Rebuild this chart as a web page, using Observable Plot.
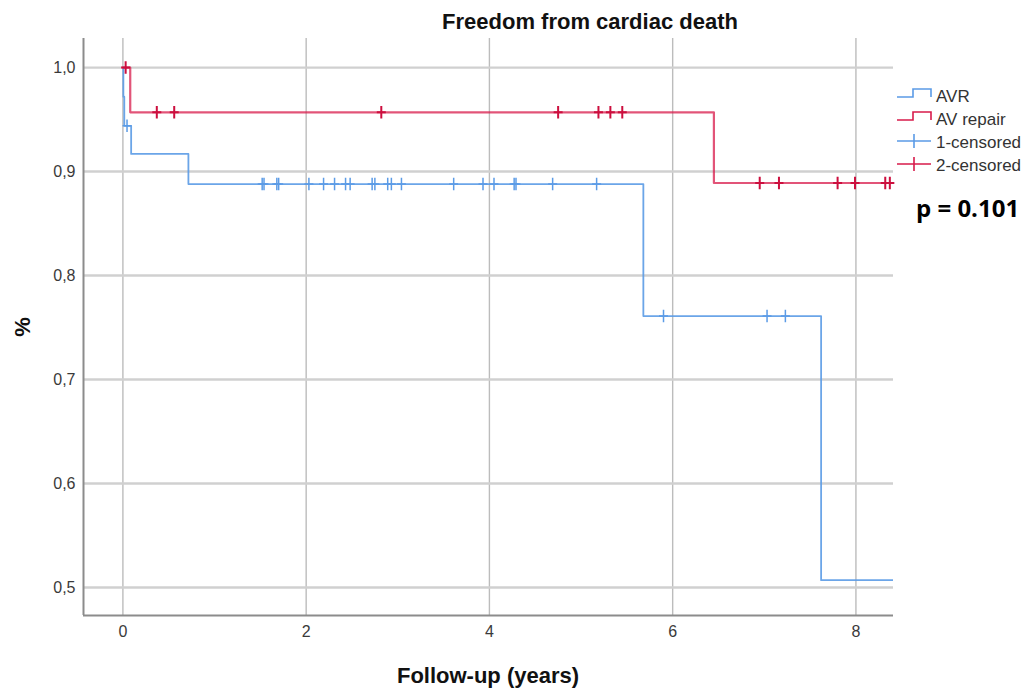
<!DOCTYPE html>
<html>
<head>
<meta charset="utf-8">
<script src="https://cdn.jsdelivr.net/npm/d3@7"></script>
<script src="https://cdn.jsdelivr.net/npm/@observablehq/plot@0.6"></script>
<style>
  html, body { margin: 0; padding: 0; background: #fff; }
  #chart { width: 1032px; height: 690px; }
</style>
</head>
<body>
<div id="chart"></div>
<script>
// ---- Data ----
const avrTime   = [0, 0.005, 0.015, 0.09, 0.715, 5.68, 7.62, 8.5];
const avrSurv   = [1.0, 0.972, 0.944, 0.917, 0.888, 0.761, 0.507, 0.507];
const repairTime = [0, 0.08, 6.45, 8.5];
const repairSurv = [1.0, 0.957, 0.889, 0.889];

const avrCensTime = [0.045, 1.52, 1.54, 1.68, 1.70, 2.03, 2.19, 2.31, 2.43, 2.48, 2.72, 2.75,
                     2.89, 2.93, 3.04, 3.61, 3.93, 4.05, 4.27, 4.29, 4.69, 5.17, 5.90, 7.03, 7.23];
const avrCensSurv = [0.944, 0.888, 0.888, 0.888, 0.888, 0.888, 0.888, 0.888, 0.888, 0.888, 0.888, 0.888,
                     0.888, 0.888, 0.888, 0.888, 0.888, 0.888, 0.888, 0.888, 0.888, 0.888, 0.761, 0.761, 0.761];
const repairCensTime = [0.03, 0.37, 0.56, 2.82, 4.75, 5.19, 5.32, 5.45, 6.95, 7.16, 7.80, 7.99, 8.32, 8.37];
const repairCensSurv = [1.0, 0.957, 0.957, 0.957, 0.957, 0.957, 0.957, 0.957, 0.889, 0.889, 0.889, 0.889, 0.889, 0.889];

const xTicks = [0, 2, 4, 6, 8];
const yTicks = [0.5, 0.6, 0.7, 0.8, 0.9, 1.0];
const seriesNames = ["AVR", "AV repair", "1-censored", "2-censored"];
const titleText = "Freedom from cardiac death";
const xLabel = "Follow-up (years)";
const yLabel = "%";
const pText = "p = 0.101";

const blue = "#5b9be6";
const red = "#d81b4b";

const zip = (xs, ys) => xs.map((x, i) => ({t: x, s: ys[i]}));
const avr = zip(avrTime, avrSurv);
const repair = zip(repairTime, repairSurv);
const avrCens = zip(avrCensTime, avrCensSurv);
const repairCens = zip(repairCensTime, repairCensSurv);

const plusSymbol = {
  draw(ctx, size) {
    const r = Math.sqrt(size / Math.PI);
    ctx.moveTo(-r * 0.9, 0); ctx.lineTo(r * 0.9, 0);
    ctx.moveTo(0, -r * 1.25); ctx.lineTo(0, r * 1.25);
  }
};

const xDom = [-0.43, 8.41];
const yDom = [0.473, 1.028];
const FONT = "Liberation Sans, Arial, sans-serif";

const chart = Plot.plot({
  width: 1032,
  height: 690,
  marginLeft: 83,
  marginRight: 139,
  marginTop: 38,
  marginBottom: 75,
  style: {fontFamily: FONT, fontSize: "16px", color: "#3a3a3a", background: "#fff"},
  x: {domain: xDom, ticks: xTicks, tickSize: 0, tickPadding: 10, label: null},
  y: {domain: yDom, ticks: yTicks, tickSize: 0, tickPadding: 8, label: null,
      tickFormat: d => d3.format(".1f")(d).replace(".", ",")},
  marks: [
    Plot.ruleX(xTicks, {stroke: "#bcbcbc", strokeWidth: 1.4}),
    Plot.ruleY(yTicks, {stroke: "#d0d0d0", strokeWidth: 2.4}),
    Plot.ruleX([xDom[0]], {stroke: "#8c8c8c", strokeWidth: 2}),
    Plot.ruleY([yDom[0]], {stroke: "#8c8c8c", strokeWidth: 2}),
    Plot.line(avr, {x: "t", y: "s", curve: "step-after", stroke: blue, strokeWidth: 1.8, strokeOpacity: 0.9, clip: true}),
    Plot.line(repair, {x: "t", y: "s", curve: "step-after", stroke: red, strokeWidth: 2.2, strokeOpacity: 0.75, clip: true}),
    Plot.dot(avrCens, {x: "t", y: "s", symbol: plusSymbol, r: 5, stroke: blue, strokeWidth: 1.5, fill: "none"}),
    Plot.dot(repairCens, {x: "t", y: "s", symbol: plusSymbol, r: 5, stroke: "#cc0f3e", strokeWidth: 2, fill: "none"})
  ]
});

document.getElementById("chart").appendChild(chart);

// ---- Annotations: title, axis labels, legend, p-value ----
const svg = d3.select(chart);
svg.append("text")
  .attr("x", 590).attr("y", 29)
  .attr("text-anchor", "middle")
  .attr("font-family", FONT)
  .attr("font-weight", "bold").attr("font-size", 22).attr("fill", "#111")
  .text(titleText);

svg.append("text")
  .attr("x", 488).attr("y", 683)
  .attr("text-anchor", "middle")
  .attr("font-family", FONT)
  .attr("font-weight", "bold").attr("font-size", 22).attr("fill", "#111")
  .text(xLabel);

svg.append("text")
  .attr("transform", "translate(30,327) rotate(-90)")
  .attr("text-anchor", "middle")
  .attr("font-family", FONT)
  .attr("font-weight", "bold").attr("font-size", 22).attr("fill", "#111")
  .text(yLabel);

const leg = svg.append("g").attr("font-family", FONT)
  .attr("font-size", 17).attr("fill", "#333").attr("text-anchor", "start");
const rowsY = [96, 119, 142, 165];
const colors = [blue, red, blue, red];
seriesNames.forEach((name, i) => {
  const y = rowsY[i];
  if (i < 2) {
    leg.append("path")
      .attr("d", `M897,${y + 1}H913V${y - 7}H931V${y + 1}`)
      .attr("fill", "none").attr("stroke", colors[i]).attr("stroke-width", 1.6);
  } else {
    leg.append("path")
      .attr("d", `M897,${y - 1}H931M914,${y - 8}V${y + 6}`)
      .attr("fill", "none").attr("stroke", colors[i]).attr("stroke-width", 1.6);
  }
  leg.append("text").attr("x", 936).attr("y", y + 6).attr("text-anchor", "start").text(name);
});

svg.append("text")
  .attr("x", 916).attr("y", 217)
  .attr("text-anchor", "start")
  .attr("font-family", "Open Sans, Liberation Sans, sans-serif")
  .attr("font-weight", "bold").attr("font-size", 24).attr("fill", "#000")
  .text(pText);
</script>
</body>
</html>
